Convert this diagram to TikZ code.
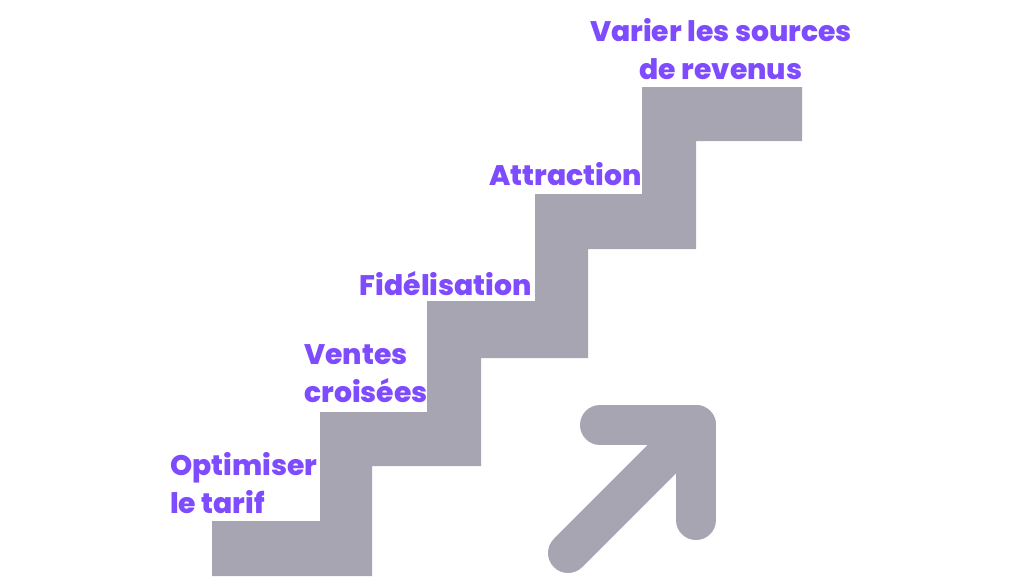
\documentclass[tikz,border=0pt]{standalone}
\usepackage{fontspec}
\setmainfont{Poppins}[BoldFont={Poppins ExtraBold}]
\usetikzlibrary{positioning}

\definecolor{stairgray}{HTML}{A8A5B3}
\definecolor{textpurple}{HTML}{7E4BFE}

\begin{document}
\begin{tikzpicture}[
    x=0.75pt, y=-0.75pt,
    steplabel/.style={inner sep=0pt, text=textpurple, font=\fontsize{21.2}{28.5}\selectfont\bfseries, align=left},
    stairs/.style={fill=stairgray, draw=none},
    bigarrow/.style={draw=stairgray, line width=30pt, line cap=round, line join=round}
]
\useasboundingbox[fill=white] (0,0) rectangle (1024,576);

% Staircase
\fill[stairs] (212,576) -- (212,521) -- (320,521) -- (320,412) -- (427,412) -- (427,301)
    -- (535,301) -- (535,194) -- (642,194) -- (642,87) -- (802,87) -- (802,141)
    -- (696,141) -- (696,249) -- (588,249) -- (588,358) -- (481,358) -- (481,466)
    -- (372,466) -- (372,576) -- cycle;

% Step labels (base = last line)
\node[steplabel, anchor=base west] (Tarif) at (170,513) {Optimiser\\le tarif};
\node[steplabel, anchor=base west] (Ventes) at (304,402) {Ventes\\croisées};
\node[steplabel, anchor=base east] (Fidel) at (532,295) {Fidélisation};
\node[steplabel, anchor=base east] (Attract) at (642,185) {Attraction};
\node[steplabel, anchor=base, align=center] (Revenus) at (721,79) {Varier les sources\\de revenus};

% Arrow
\coordinate (ArrTail) at (568,553);
\coordinate (ArrCorner) at (696,425);
\coordinate (ArrLeft) at (600,425);
\coordinate (ArrDown) at (696,520);
\draw[bigarrow] (ArrLeft) -- (ArrCorner) -- (ArrDown);
\draw[bigarrow] (ArrTail) -- (ArrCorner);

\end{tikzpicture}
\end{document}
